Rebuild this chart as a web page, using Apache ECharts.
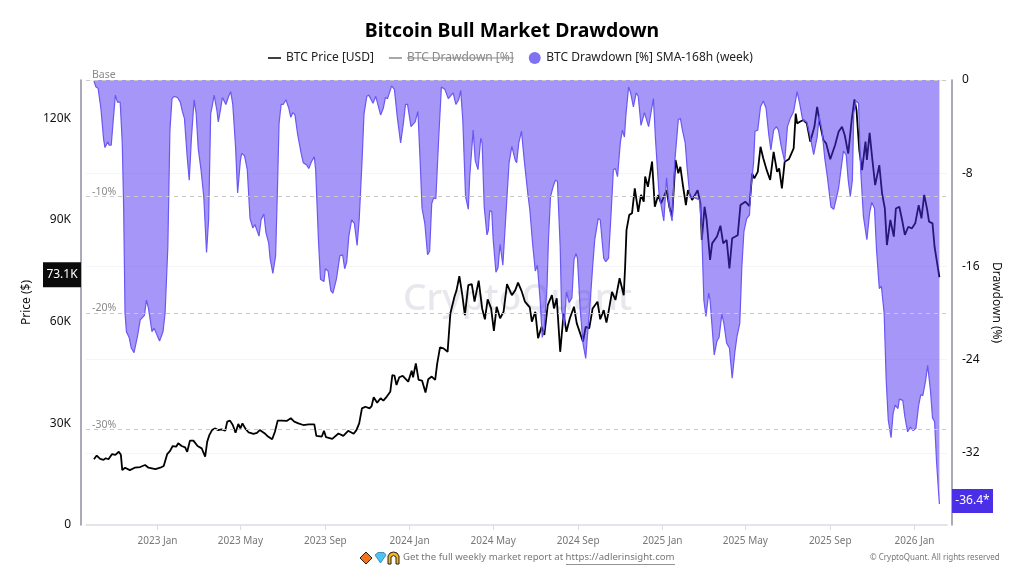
<!DOCTYPE html>
<html>
<head>
<meta charset="utf-8">
<script src="https://cdn.jsdelivr.net/npm/echarts@6/dist/echarts.min.js"></script>
<style>html,body{margin:0;background:#fff}#main{width:1024px;height:576px}</style>
</head>
<body>
<div id="main"></div>
<script>
// days counted from 2023-01-01
var baseDate = Date.UTC(2023, 0, 1);
var dayMs = 86400000;

var priceDays = [-92,-88,-83,-78,-75,-71,-66,-61,-56,-53,-51,-47,-40,-33,-25,-18,-13,-3,4,9,14,18,22,27,30,35,40,43,47,52,58,64,69,72,75,79,83,88,93,98,101,105,109,113,117,120,123,127,132,139,144,148,156,160,166,170,174,180,187,193,198,204,211,219,227,230,238,241,244,253,262,269,276,284,288,292,296,301,307,310,313,318,323,327,332,337,340,343,346,350,355,363,368,370,374,378,383,388,392,397,402,405,409,414,420,424,430,433,437,441,445,450,455,459,465,470,474,478,483,487,491,496,501,506,513,518,522,527,532,539,542,547,551,556,560,565,571,574,578,583,588,592,597,603,607,616,620,625,630,637,641,646,650,653,658,663,669,675,677,679,683,687,691,696,700,704,706,710,716,720,725,729,737,741,745,750,754,757,761,765,768,774,782,786,788,792,795,800,803,810,815,819,824,828,832,840,844,851,857,861,864,869,873,877,882,887,892,897,900,904,908,914,921,924,926,930,935,940,945,951,955,959,964,968,974,981,986,991,995,1000,1005,1009,1012,1016,1020,1025,1027,1031,1035,1039,1045,1049,1053,1056,1061,1066,1069,1074,1078,1082,1087,1092,1097,1102,1106,1110,1114,1117,1122,1125,1128,1132];
var priceValues = [19.4,20.5,19.5,19.2,19.7,19.4,20.9,20.7,21.6,20.7,16.2,16.9,16.2,16.9,17.1,17.7,16.9,16.5,16.9,17.4,20.9,21.8,23.3,23.1,24.1,23.3,22.9,21.6,24.9,24.9,23.3,22.6,20.2,24.6,26.5,28.0,28.5,28.0,28.2,27.8,30.5,30.8,29.5,27.2,29.8,28.5,30.0,28.5,27.3,26.9,27.2,28.0,26.9,26.1,25.3,27.5,30.8,30.8,30.7,31.5,30.5,30.0,29.5,29.7,29.7,26.3,26.1,27.8,25.9,25.4,27.0,26.3,27.8,26.9,28.0,30.0,34.4,34.9,34.4,35.1,37.7,36.1,37.4,36.7,37.9,39.3,44.2,44.1,41.3,43.6,44.0,42.3,45.5,43.6,47.7,42.8,42.6,39.1,43.0,43.8,42.8,47.7,52.4,52.1,51.1,62.4,67.4,69.3,73.4,68.3,61.9,70.8,71.1,65.9,72.1,63.9,60.7,66.6,63.9,57.3,64.4,61.0,62.9,71.1,67.8,69.3,71.5,69.1,65.9,64.2,60.0,62.9,55.1,58.5,56.1,64.9,67.8,63.9,66.9,51.1,62.4,57.0,61.0,64.4,59.5,54.1,58.5,58.0,63.9,65.9,60.7,63.4,59.7,62.9,68.8,66.4,72.8,67.8,76.2,87.0,91.5,92.0,99.3,92.4,97.4,95.4,102.8,99.8,107.2,93.9,97.4,94.9,98.8,93.9,91.0,107.7,103.8,105.7,99.8,94.4,98.8,95.9,98.8,94.9,84.1,93.9,90.0,78.2,83.1,85.1,88.3,83.1,84.1,75.7,84.6,85.5,94.4,95.4,94.1,103.7,102.3,104.2,111.6,108.2,104.7,101.8,110.1,104.2,105.2,99.3,107.2,107.9,111.1,121.4,118.5,119.0,119.5,118.5,113.1,117.5,123.4,118.5,113.6,112.6,107.9,112.1,116.0,117.5,115.0,109.6,119.5,125.6,122.4,110.6,104.7,113.1,107.7,115.7,107.7,100.3,106.2,97.8,93.4,82.6,90.0,85.1,93.4,93.9,90.0,85.6,88.0,87.5,89.0,94.4,90.5,97.4,93.4,89.5,89.0,82.1,78.2,73.1];

var drawdownDays = [-92,-89,-86,-82,-78,-76,-72,-70,-67,-64,-61,-58,-54,-51,-49,-47,-45,-41,-38,-34,-29,-25,-19,-16,-13,-8,-5,3,8,11,15,18,21,24,29,33,36,39,43,46,49,53,56,59,63,67,71,74,77,79,82,86,88,91,94,99,103,106,109,113,116,120,122,126,130,134,138,141,147,150,154,157,161,163,167,171,174,176,179,182,186,190,193,196,199,203,208,211,216,219,223,227,229,233,236,241,243,247,251,254,259,264,268,271,274,277,281,285,289,292,296,299,303,306,312,316,318,323,327,330,333,339,343,347,352,356,359,362,367,373,377,380,383,387,391,394,397,400,403,407,411,416,421,428,432,436,439,442,446,450,452,457,460,464,468,470,473,477,479,481,484,486,490,493,496,500,506,509,513,518,520,523,527,531,536,539,543,547,550,554,557,560,564,566,569,573,576,579,583,585,589,592,596,600,603,606,608,612,616,620,622,626,630,633,638,641,646,649,653,657,660,663,666,670,673,676,678,682,685,689,693,696,700,705,711,715,718,721,726,733,737,741,745,749,754,757,760,764,767,771,777,785,788,791,794,798,800,806,810,813,817,820,824,828,832,836,839,843,846,849,853,857,859,863,865,869,873,877,881,885,888,892,896,899,903,908,912,916,921,926,930,934,940,945,950,955,958,962,966,970,975,979,983,986,993,997,1000,1003,1006,1008,1011,1015,1018,1022,1027,1031,1034,1038,1041,1045,1048,1052,1055,1058,1062,1065,1068,1072,1074,1079,1082,1086,1090,1094,1098,1102,1105,1108,1112,1115,1119,1122,1125,1128,1132];
var drawdownValues = [-0.1,-0.6,-0.7,-2.4,-5.1,-5.8,-5.3,-5.6,-5.6,-3.4,-1.3,-1.9,-1.9,-5.4,-10.9,-20.0,-21.6,-22.1,-23.0,-23.4,-22.0,-20.6,-20.2,-18.9,-19.6,-21.6,-21.3,-22.4,-21.6,-20.0,-14.3,-4.3,-1.6,-1.4,-1.5,-1.9,-2.7,-3.3,-6.6,-8.6,-5.1,-1.7,-2.9,-5.9,-7.7,-10.0,-14.8,-12.0,-2.9,-2.3,-1.3,-2.6,-3.6,-2.6,-1.5,-2.1,-1.4,-1.0,-2.1,-5.7,-9.7,-6.9,-6.3,-6.5,-7.7,-11.9,-12.7,-12.4,-13.4,-12.0,-11.5,-13.1,-14.0,-15.3,-16.6,-15.1,-8.6,-3.7,-2.1,-2.1,-1.7,-2.4,-3.2,-2.8,-3.0,-4.7,-6.3,-7.1,-7.3,-7.6,-7.0,-6.6,-7.7,-13.7,-17.1,-17.3,-16.2,-16.4,-18.1,-18.3,-17.1,-15.1,-15.0,-16.2,-15.6,-13.4,-12.0,-12.3,-14.2,-12.0,-7.1,-2.9,-1.4,-1.3,-2.0,-1.4,-1.4,-3.0,-2.4,-1.5,-1.6,-0.5,-0.8,-3.1,-5.4,-3.7,-2.1,-2.1,-4.0,-3.6,-2.7,-6.6,-11.0,-12.3,-15.0,-14.7,-10.6,-10.1,-10.2,-5.1,-0.6,-0.8,-1.6,-1.1,-2.1,-1.7,-0.9,-3.4,-10.0,-11.1,-8.3,-4.3,-6.9,-7.7,-5.0,-5.4,-10.9,-13.3,-12.9,-11.2,-11.3,-13.7,-16.5,-16.1,-14.1,-15.9,-10.0,-7.1,-5.7,-6.9,-7.1,-5.4,-4.4,-6.9,-9.7,-11.1,-14.0,-16.4,-15.9,-18.9,-22.1,-21.3,-17.7,-13.7,-10.0,-9.1,-8.6,-8.7,-14.3,-19.7,-21.0,-18.2,-19.1,-18.7,-15.4,-14.9,-15.3,-19.7,-22.6,-23.9,-22.3,-19.4,-16.0,-13.7,-11.9,-12.0,-15.3,-15.6,-15.3,-11.1,-7.7,-7.6,-8.3,-5.4,-4.3,-4.9,-3.1,-0.6,-1.1,-2.3,-1.1,-1.4,-3.9,-2.8,-4.0,-2.6,-1.6,-5.1,-9.7,-12.1,-8.4,-11.0,-12.1,-6.9,-3.4,-3.3,-4.3,-5.4,-7.7,-10.1,-10.1,-10.3,-13.1,-18.9,-20.3,-18.3,-18.9,-23.6,-22.4,-22.1,-20.1,-20.9,-22.6,-23.0,-25.6,-23.3,-22.0,-20.9,-16.0,-13.0,-11.9,-11.6,-9.4,-7.1,-4.4,-4.3,-2.3,-1.8,-2.4,-4.7,-6.0,-4.3,-4.0,-4.3,-5.7,-7.0,-4.0,-3.3,-2.7,-1.0,-2.1,-3.4,-3.6,-4.9,-6.4,-4.9,-3.1,-4.3,-6.7,-8.4,-10.9,-11.1,-10.1,-9.3,-6.1,-6.4,-8.6,-10.0,-8.6,-2.9,-1.8,-2.0,-7.7,-11.7,-13.7,-11.4,-10.5,-11.0,-14.6,-17.9,-17.7,-20.0,-25.8,-29.2,-30.7,-28.6,-27.9,-28.2,-27.4,-27.5,-28.9,-30.2,-29.8,-30.1,-29.9,-27.9,-27.0,-27.1,-25.8,-24.5,-26.6,-29.0,-29.3,-32.9,-36.4];

var levelValues = [0, -10, -20, -30];
var levelLabels = ['Base', '-10%', '-20%', '-30%'];
var tickDates = ['2023-01-01','2023-05-01','2023-09-01','2024-01-01','2024-05-01','2024-09-01','2025-01-01','2025-05-01','2025-09-01','2026-01-01'];
var tickLabels = ['2023 Jan','2023 May','2023 Sep','2024 Jan','2024 May','2024 Sep','2025 Jan','2025 May','2025 Sep','2026 Jan'];
var drawdownTicks = [0, -8, -16, -24, -32];
var lastPrice = 73.1;
var lastDrawdown = -36.4;

function pairs(days, values) {
  return days.map(function (d, i) { return [d, values[i]]; });
}
var tickDays = tickDates.map(function (d) { return (new Date(d + 'T00:00:00Z').getTime() - baseDate) / dayMs; });
var font = '"Noto Sans", sans-serif';
var lineIcon = 'path://M0 0H13V1.5H0Z';

var chart = echarts.init(document.getElementById('main'), null, { renderer: 'canvas' });
chart.setOption({
  animation: false,
  backgroundColor: '#fff',
  textStyle: { fontFamily: font },
  title: {
    text: 'Bitcoin Bull Market Drawdown',
    left: 'center',
    top: 17,
    textStyle: { fontFamily: font, fontSize: 19.4, fontWeight: 'bold', color: '#000' }
  },
  legend: {
    left: 263,
    top: 47,
    itemWidth: 13,
    itemHeight: 12,
    itemGap: 15,
    textStyle: { fontFamily: font, fontSize: 12, color: '#222' },
    inactiveColor: '#8a8a8a',
    selected: { 'BTC Drawdown [%]': false },
    data: [
      { name: 'BTC Price [USD]', icon: lineIcon },
      { name: 'BTC Drawdown [%]', icon: lineIcon },
      { name: 'BTC Drawdown [%] SMA-168h (week)', icon: 'circle', itemStyle: { color: '#7f70f4', opacity: 1 } }
    ]
  },
  grid: { left: 86, right: 77, top: 80, bottom: 51 },
  xAxis: {
    type: 'value',
    min: -103.5,
    max: 1143,
    axisLine: { onZero: false, lineStyle: { color: '#dcdce4', width: 1.5 } },
    axisTick: { show: true, length: 5, customValues: tickDays, lineStyle: { color: '#dcdce4' } },
    axisLabel: {
      customValues: tickDays,
      color: '#777',
      fontSize: 10,
      margin: 11,
      formatter: function (v) { return tickLabels[tickDays.indexOf(v)]; }
    },
    splitLine: { show: false }
  },
  yAxis: [{
    type: 'value',
    position: 'left',
    offset: 5,
    min: 0,
    max: 131.3,
    interval: 30,
    name: 'Price ($)',
    nameLocation: 'middle',
    nameGap: 41,
    nameTextStyle: { fontSize: 12, color: '#111' },
    axisLine: { show: true, onZero: false, lineStyle: { color: '#8e8ea0', width: 1.5 } },
    axisTick: { show: false },
    axisLabel: { color: '#111', fontSize: 12, margin: 10, showMaxLabel: false, formatter: function (v) { return v === 0 ? '0' : v + 'K'; } },
    splitLine: { show: false }
  }, {
    type: 'value',
    position: 'right',
    offset: 5,
    min: -38.2,
    max: 0,
    name: 'Drawdown (%)',
    nameLocation: 'middle',
    nameRotate: -90,
    nameGap: 35,
    nameTextStyle: { fontSize: 12, color: '#111' },
    axisLine: { show: true, onZero: false, lineStyle: { color: '#8e8ea0', width: 1.5 } },
    axisTick: { show: false, customValues: drawdownTicks },
    axisLabel: { customValues: drawdownTicks, color: '#111', fontSize: 12, margin: 10 },
    splitLine: { show: true, lineStyle: { color: '#f5f5f7', width: 1 } }
  }],
  series: [{
    name: 'BTC Price [USD]',
    type: 'line',
    yAxisIndex: 0,
    z: 2,
    symbol: 'none',
    lineStyle: { color: '#000', width: 1.8 },
    itemStyle: { color: '#000' },
    data: pairs(priceDays, priceValues)
  }, {
    // switched off in the reference, so nothing of it is drawn
    name: 'BTC Drawdown [%]',
    type: 'line',
    yAxisIndex: 1,
    symbol: 'none',
    lineStyle: { color: '#7f70f4', width: 1 },
    itemStyle: { color: '#7f70f4' },
    data: []
  }, {
    name: 'BTC Drawdown [%] SMA-168h (week)',
    type: 'line',
    yAxisIndex: 1,
    z: 3,
    symbol: 'none',
    lineStyle: { color: '#6a58f2', width: 1.2 },
    itemStyle: { color: '#7f70f4' },
    areaStyle: { origin: 'end', color: 'rgba(75,45,240,0.5)', opacity: 1 },
    data: pairs(drawdownDays, drawdownValues),
    markLine: {
      silent: true,
      symbol: 'none',
      z: 4,
      lineStyle: { color: '#c9c9c9', type: [4, 4], width: 1 },
      label: { position: 'insideStartTop', color: '#8a8a8a', fontSize: 10.5, distance: 2, offset: [4, 3], formatter: function (p) { return p.name; } },
      data: levelValues.map(function (v, i) { return { name: levelLabels[i], yAxis: v }; })
    }
  }]
});

// boxes on the axes sit at the last values, footer and watermark are plain graphics
var pricePx = chart.convertToPixel({ yAxisIndex: 0 }, lastPrice);
var drawPx = chart.convertToPixel({ yAxisIndex: 1 }, lastDrawdown);
chart.setOption({
  graphic: [
    { type: 'text', z: 0, x: 403, y: 281, style: { text: 'CryptoQuant', font: '500 37px ' + font, fill: '#e7e7ee' } },
    { type: 'line', z: 10, shape: { x1: 407, y1: 58, x2: 514, y2: 58 }, style: { stroke: '#8a8a8a', lineWidth: 1 } },
    { type: 'rect', z: 10, shape: { x: 43, y: pricePx - 15, width: 38, height: 25 }, style: { fill: '#0b0b0b' } },
    { type: 'text', z: 11, x: 62, y: pricePx - 2.5, style: { text: lastPrice + 'K', font: '12px ' + font, fill: '#fff', align: 'center', verticalAlign: 'middle' } },
    { type: 'rect', z: 10, shape: { x: 952, y: drawPx - 15, width: 41, height: 24 }, style: { fill: '#4a2fe8' } },
    { type: 'text', z: 11, x: 972.5, y: drawPx - 3, style: { text: lastDrawdown + '*', font: '12px ' + font, fill: '#fff', align: 'center', verticalAlign: 'middle' } },
    { type: 'polygon', z: 10, shape: { points: [[366, 552], [372, 558], [366, 564], [360, 558]] }, style: { fill: '#f4741c', stroke: '#222', lineWidth: 1 } },
    { type: 'polygon', z: 10, shape: { points: [[375, 555], [378, 552.5], [384, 552.5], [386, 555], [380.5, 563]] }, style: { fill: '#4fc3ee', stroke: '#2a7fa8', lineWidth: 0.8 } },
    { type: 'polygon', z: 10, shape: { points: [[388, 564], [388, 556], [390, 553], [393.5, 552], [397, 553], [399, 556], [399, 564], [396, 564], [396, 557], [393.5, 555.5], [391, 557], [391, 564]] }, style: { fill: '#f4b41c', stroke: '#222', lineWidth: 1 } },
    { type: 'text', z: 10, x: 403, y: 552, style: { text: 'Get the full weekly market report at https://adlerinsight.com', font: '9.6px ' + font, fill: '#777' } },
    { type: 'line', z: 10, shape: { x1: 566, y1: 564.5, x2: 675, y2: 564.5 }, style: { stroke: '#777', lineWidth: 0.8 } },
    { type: 'text', z: 10, x: 870, y: 554, style: { text: '© CryptoQuant. All rights reserved', font: '8px ' + font, fill: '#777' } }
  ]
});
</script>
</body>
</html>
